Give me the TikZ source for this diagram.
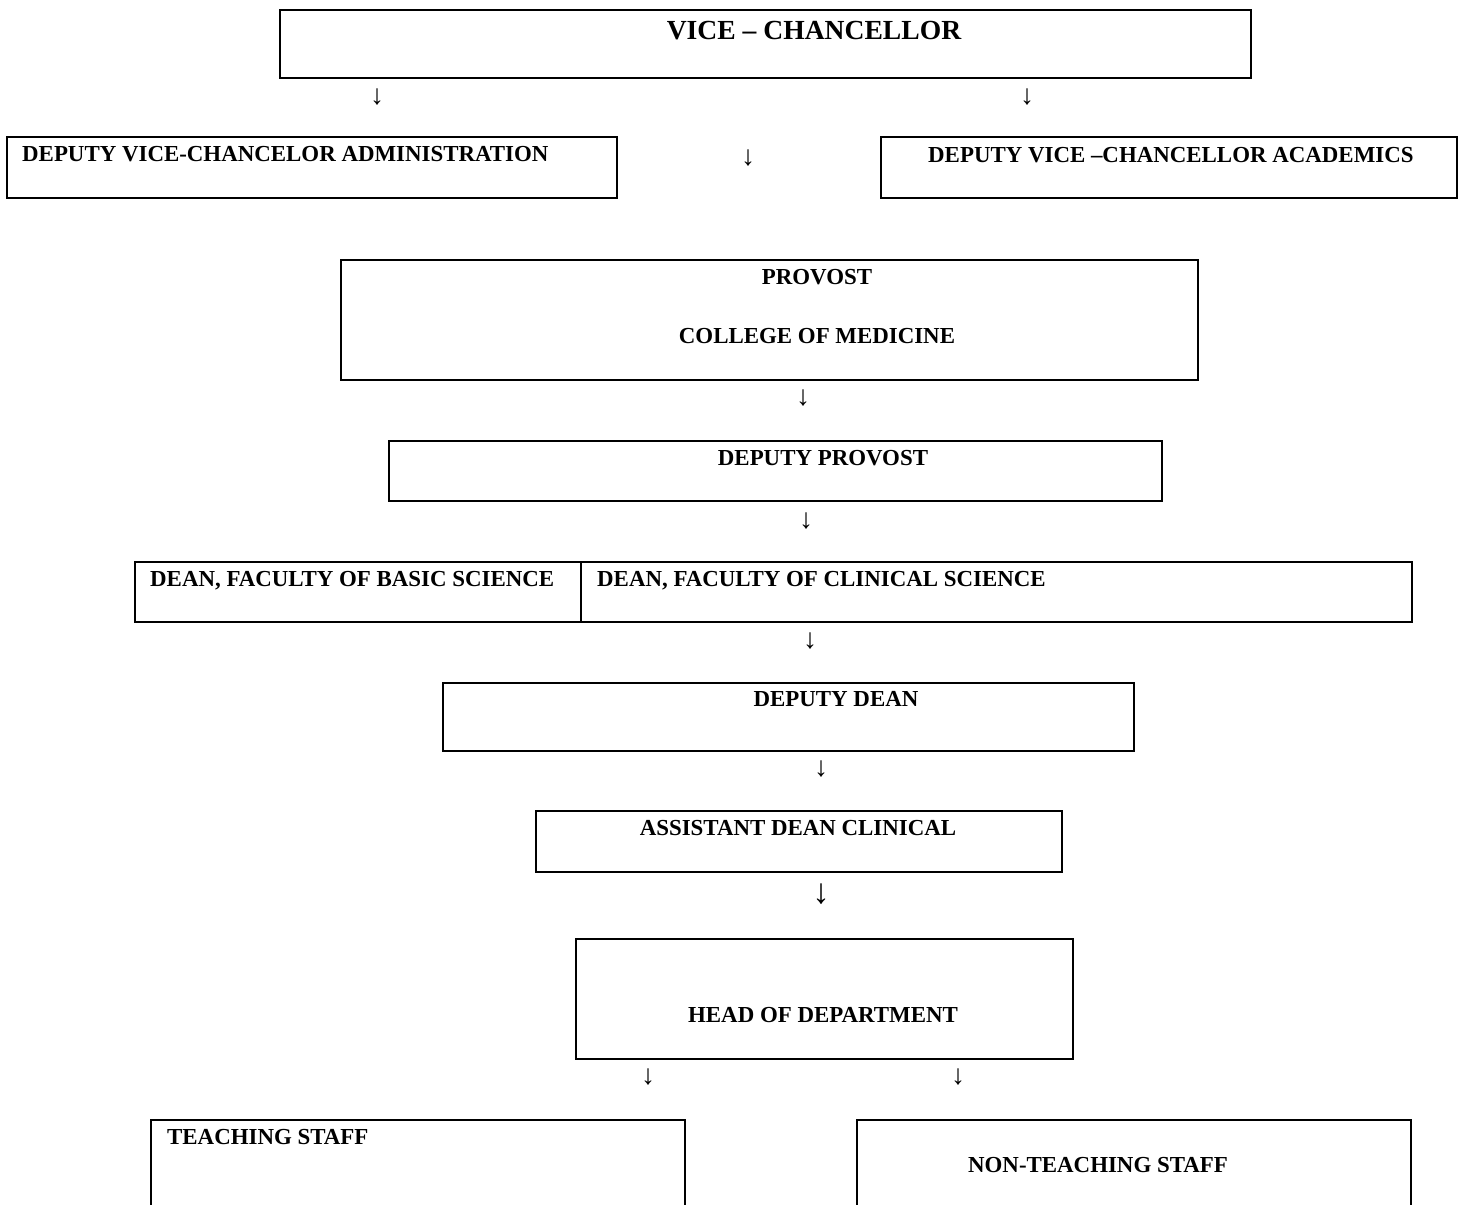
\documentclass[tikz,border=0pt]{standalone}
\usepackage{fontspec}
\setmainfont{Liberation Serif}
\begin{document}
\begin{tikzpicture}[x=1pt,y=-1pt,
    box/.style={draw,line width=2.4pt,inner sep=0pt},
    lbl/.style={font=\fontsize{22.9}{27}\selectfont\bfseries,inner sep=0pt,anchor=base},
    lblw/.style={lbl,anchor=base west},
    arr/.style={font=\fontsize{28}{32}\selectfont,inner sep=0pt}]
    \clip (0,0) rectangle (1460,1205);
    % boxes
    \node[box,minimum width=971pt,minimum height=68pt] (vc) at (765.5,44) {};
    \node[box,minimum width=610pt,minimum height=61pt] (dvcadmin) at (312,167.5) {};
    \node[box,minimum width=576pt,minimum height=61pt] (dvcacad) at (1169,167.5) {};
    \node[box,minimum width=857pt,minimum height=120pt] (provost) at (769.5,320) {};
    \node[box,minimum width=773pt,minimum height=60pt] (dprovost) at (775.5,471) {};
    \node[box,minimum width=446pt,minimum height=60pt] (basic) at (358,592) {};
    \node[box,minimum width=831pt,minimum height=60pt] (clinical) at (996.5,592) {};
    \node[box,minimum width=691pt,minimum height=68pt] (ddean) at (788.5,717) {};
    \node[box,minimum width=526pt,minimum height=61pt] (asstdean) at (799,841.5) {};
    \node[box,minimum width=497pt,minimum height=120pt] (hod) at (824.5,999) {};
    \node[box,minimum width=534pt,minimum height=140pt] (teach) at (418,1190) {};
    \node[box,minimum width=554pt,minimum height=140pt] (nonteach) at (1134,1190) {};
    % labels
    \node[lbl,font=\fontsize{27.6}{32}\selectfont\bfseries] (vct) at (814,39) {VICE – CHANCELLOR};
    \node[lblw] (dvcadmint) at (22,161) {DEPUTY VICE-CHANCELOR ADMINISTRATION};
    \node[lblw] (dvcacadt) at (928,162) {DEPUTY VICE –CHANCELLOR ACADEMICS};
    \node[lbl] (provostt) at (817,284) {PROVOST};
    \node[lbl] (colleget) at (817,343) {COLLEGE OF MEDICINE};
    \node[lbl] (dprovostt) at (823,465) {DEPUTY PROVOST};
    \node[lblw] (basict) at (150,586) {DEAN, FACULTY OF BASIC SCIENCE};
    \node[lblw] (clinicalt) at (597,586) {DEAN, FACULTY OF CLINICAL SCIENCE};
    \node[lbl] (ddeant) at (836,706) {DEPUTY DEAN};
    \node[lbl] (asstdeant) at (798,835) {ASSISTANT DEAN CLINICAL};
    \node[lbl] (hodt) at (823,1022) {HEAD OF DEPARTMENT};
    \node[lblw] (teacht) at (167,1144) {TEACHING STAFF};
    \node[lbl] (nonteacht) at (1098,1172) {NON-TEACHING STAFF};
    % arrows
    \node[arr] (a1) at (377,97) {↓};
    \node[arr] (a2) at (1027,97) {↓};
    \node[arr] (a3) at (748,158) {↓};
    \node[arr] (a4) at (803,398) {↓};
    \node[arr] (a5) at (806,521) {↓};
    \node[arr] (a6) at (810,641) {↓};
    \node[arr] (a7) at (821,769) {↓};
    \node[arr,font=\fontsize{35}{40}\selectfont] (a8) at (821,894) {↓};
    \node[arr] (a9) at (648,1077) {↓};
    \node[arr] (a10) at (958,1077) {↓};
\end{tikzpicture}
\end{document}
